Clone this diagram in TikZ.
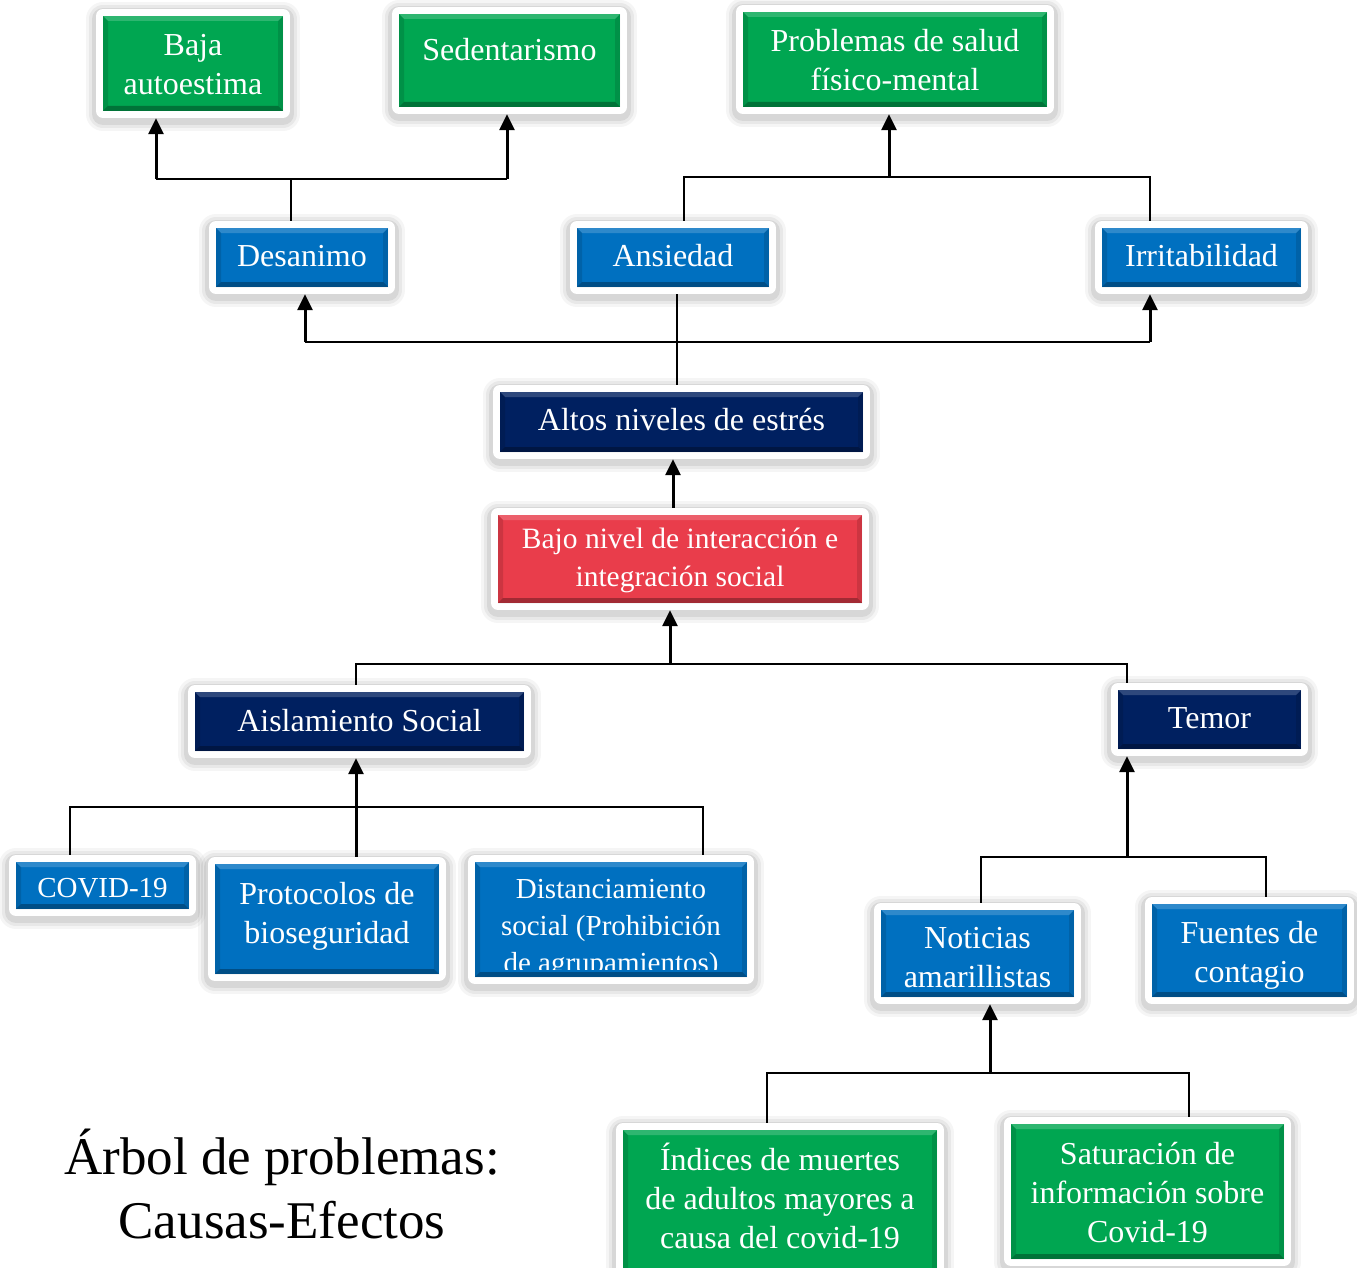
\documentclass[tikz,border=0pt]{standalone}
\usepackage{fontspec}
\setmainfont{Liberation Serif}
\usetikzlibrary{arrows.meta,calc}
\definecolor{cgreen}{HTML}{00A651}
\definecolor{cblue}{HTML}{0070C0}
\definecolor{cnavy}{HTML}{002060}
\definecolor{cred}{HTML}{E93D4B}
\newcommand\fa{\fontsize{32}{39}\selectfont}
\newcommand\fb{\fontsize{29}{37}\selectfont}
\newcommand\fc{\fontsize{29.5}{38}\selectfont}
\newcommand\bevelpp{%
 \fill[white, fill opacity=.18] (path picture bounding box.north west) -- (path picture bounding box.north east) -- ([shift={(-5pt,-5pt)}]path picture bounding box.north east) -- ([shift={(5pt,-5pt)}]path picture bounding box.north west) -- cycle;
 \fill[black, fill opacity=.30] (path picture bounding box.south west) -- (path picture bounding box.south east) -- ([shift={(-5pt,5pt)}]path picture bounding box.south east) -- ([shift={(5pt,5pt)}]path picture bounding box.south west) -- cycle;
 \fill[black, fill opacity=.12] (path picture bounding box.south west) -- (path picture bounding box.north west) -- ([shift={(5pt,-5pt)}]path picture bounding box.north west) -- ([shift={(5pt,5pt)}]path picture bounding box.south west) -- cycle;
 \fill[black, fill opacity=.12] (path picture bounding box.south east) -- (path picture bounding box.north east) -- ([shift={(-5pt,-5pt)}]path picture bounding box.north east) -- ([shift={(-5pt,5pt)}]path picture bounding box.south east) -- cycle;
}
\newcommand\pbox[9]{%
 \node[pboxst, fill=#6, minimum width=#4pt, minimum height=#5pt,
   path picture={\bevelpp
     \node[lbl, font=#8] at ([yshift=#7pt]path picture bounding box.center) {#9};}]
   (#1) at (#2,#3) {};}
\tikzset{
 pboxst/.style={inner sep=0pt, draw=none,
  preaction={draw=black, draw opacity=.04, line width=34pt, line join=round, transform canvas={yshift=-3pt}},
  preaction={draw=black, draw opacity=.05, line width=28pt, line join=round, transform canvas={yshift=-3pt}},
  preaction={draw=black, draw opacity=.07, line width=22pt, line join=round, transform canvas={yshift=-3pt}},
  preaction={draw=white, line width=14pt, line join=round}},
 lbl/.style={text=white, align=center, inner sep=0pt},
 ln/.style={line width=1.7pt, black},
 arr/.style={line width=3pt, black, -{Triangle[length=16pt,width=15pt]}, shorten >=7pt},
}
\begin{document}
\begin{tikzpicture}[x=1pt,y=-1pt]
\useasboundingbox (0,0) rectangle (1357,1268);
\clip (0,0) rectangle (1357,1268);
\fill[white] (0,0) rectangle (1357,1268);
% boxes
\pbox{baja}{193}{63.5}{180}{95}{cgreen}{-1}{\fa}{Baja\\autoestima}
\pbox{sed}{509.5}{60.5}{221}{93}{cgreen}{10.5}{\fa}{Sedentarismo}
\pbox{prob}{895}{59.5}{304}{95}{cgreen}{-1}{\fa}{Problemas de salud\\físico-mental}
\pbox{des}{302}{257.5}{172}{59}{cblue}{1.5}{\fa}{Desanimo}
\pbox{ans}{673}{257.5}{192}{59}{cblue}{1.5}{\fa}{Ansiedad}
\pbox{irr}{1201.5}{257.5}{199}{59}{cblue}{1.5}{\fa}{Irritabilidad}
\pbox{altos}{681.5}{422}{363}{60}{cnavy}{2}{\fa}{Altos niveles de estrés}
\pbox{bajo}{680}{559}{364}{88}{cred}{-1}{\fc}{Bajo nivel de interacción e\\integración social}
\pbox{aisl}{359.5}{721.5}{329}{59}{cnavy}{0.5}{\fa}{Aislamiento Social}
\pbox{temor}{1209.5}{719.5}{183}{59}{cnavy}{1.5}{\fa}{Temor}
\pbox{covid}{102.5}{885.5}{173}{47}{cblue}{-2.5}{\fb}{COVID-19}
\pbox{prot}{327}{919}{224}{110}{cblue}{2.5}{\fa}{Protocolos de\\bioseguridad}
\pbox{dist}{611}{919.5}{272}{115}{cblue}{0}{\fb}{}
\begin{scope}
\clip (dist.north west) rectangle ([yshift=8pt]dist.south east);
\node[lbl, font=\fb] (disttext) at ([yshift=-9.5pt]dist.center) {Distanciamiento\\social (Prohibición\\de agrupamientos)};
\end{scope}
\pbox{not}{977.5}{953.5}{193}{87}{cblue}{-4.5}{\fa}{Noticias\\amarillistas}
\pbox{fuentes}{1249.5}{950.5}{195}{93}{cblue}{-4.5}{\fa}{Fuentes de\\contagio}
\pbox{indices}{780}{1205}{314}{150}{cgreen}{9.5}{\fa}{Índices de muertes\\de adultos mayores a\\causa del covid-19}
\pbox{sat}{1147.5}{1191.5}{273}{135}{cgreen}{-1}{\fa}{Saturación de\\información sobre\\Covid-19}
% title
\node[align=center, inner sep=0pt, font=\fontsize{53}{64}\selectfont] (title) at (282,1184) {Árbol de problemas:\\Causas-Efectos};
% connectors: top left
\coordinate (j1) at (291,179);
\coordinate (j1a) at (156,179);
\coordinate (j1b) at (507,179);
\draw[ln, shorten <=7pt] (des.north -| j1) -- (j1);
\draw[ln] (j1a) -- (j1b);
\draw[arr] (j1a) -- (j1a |- baja.south);
\draw[arr] (j1b) -- (j1b |- sed.south);
% top right
\coordinate (j2a) at (684,177);
\coordinate (j2b) at (1150,177);
\coordinate (j2c) at (889,177);
\draw[ln, shorten <=7pt, shorten >=7pt] (ans.north -| j2a) -- (j2a) -- (j2b) -- (irr.north -| j2b);
\draw[arr] (j2c) -- (j2c |- prob.south);
% altos
\coordinate (j3) at (677,342);
\coordinate (j3a) at (305,342);
\coordinate (j3b) at (1150,342);
\draw[ln, shorten <=7pt, shorten >=7pt] (altos.north -| j3) -- (ans.south -| j3);
\draw[ln] (j3a) -- (j3b);
\draw[arr] (j3a) -- (j3a |- des.south);
\draw[arr] (j3b) -- (j3b |- irr.south);
% bajo -> altos
\coordinate (j4) at (673,480);
\draw[arr, shorten <=7pt] (bajo.north -| j4) -- (altos.south -| j4);
% aisl/temor -> bajo
\coordinate (j5) at (670,664);
\coordinate (j5a) at (356,664);
\coordinate (j5b) at (1127,664);
\draw[ln, shorten <=7pt, shorten >=7pt] (aisl.north -| j5a) -- (j5a) -- (j5b) -- (temor.north -| j5b);
\draw[arr] (j5) -- (j5 |- bajo.south);
% aisl group
\coordinate (j6) at (356,807);
\coordinate (j6a) at (70,807);
\coordinate (j6b) at (703,807);
\draw[ln, shorten <=7pt, shorten >=7pt] (covid.north -| j6a) -- (j6a) -- (j6b) -- (dist.north -| j6b);
\draw[arr, shorten <=7pt] (prot.north -| j6) -- (j6 |- aisl.south);
% temor group
\coordinate (j7) at (1127,857);
\coordinate (j7a) at (981,857);
\coordinate (j7b) at (1266,857);
\draw[ln, shorten <=7pt, shorten >=7pt] (not.north -| j7a) -- (j7a) -- (j7b) -- (fuentes.north -| j7b);
\draw[arr] (j7) -- (j7 |- temor.south);
% noticias group
\coordinate (j8) at (990,1073);
\coordinate (j8a) at (767,1073);
\coordinate (j8b) at (1189,1073);
\draw[ln, shorten <=7pt, shorten >=7pt] (indices.north -| j8a) -- (j8a) -- (j8b) -- (sat.north -| j8b);
\draw[arr] (j8) -- (j8 |- not.south);
\end{tikzpicture}
\end{document}
